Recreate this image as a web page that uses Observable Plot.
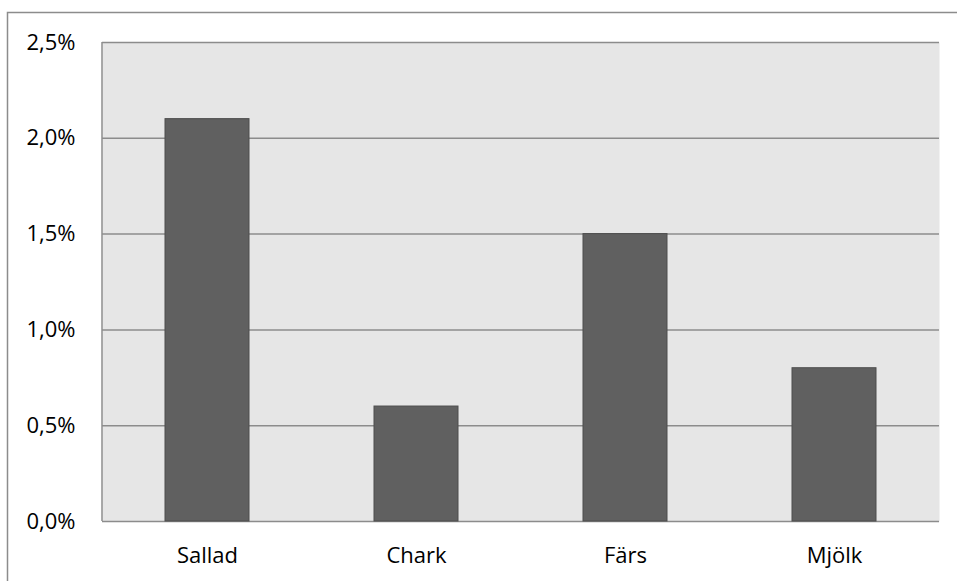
<!DOCTYPE html>
<html>
<head>
<meta charset="utf-8">
<script src="https://cdn.jsdelivr.net/npm/d3@7"></script>
<script src="https://cdn.jsdelivr.net/npm/@observablehq/plot@0.6"></script>
<style>
  html, body { margin: 0; padding: 0; background: #fff; }
  #chart svg { display: block; }
</style>
</head>
<body>
<div id="chart"></div>
<script>
// Share per product group, in percent
const categories = ["Sallad", "Chark", "Färs", "Mjölk"];
const values = [2.1, 0.6, 1.5, 0.8];
const yTicks = [0, 0.5, 1.0, 1.5, 2.0, 2.5];

const data = categories.map((category, i) => ({category, value: values[i]}));

const pct = d => d.toFixed(1).replace(".", ",") + "%";

// Left edge of the plotting area
const leftEdge = (index, scales, values, dims) => {
  const g = d3.create("svg:g");
  g.append("line")
    .attr("x1", dims.marginLeft).attr("x2", dims.marginLeft)
    .attr("y1", dims.marginTop).attr("y2", dims.height - dims.marginBottom)
    .attr("stroke", "#8c8c8c").attr("stroke-width", 1.5);
  return g.node();
};

// Outer chart border (top and left edges)
const outerBorder = (index, scales, values, dims) => {
  const g = d3.create("svg:g");
  g.append("path")
    .attr("d", `M7.5,${dims.height}V12.5H${dims.width}`)
    .attr("fill", "none")
    .attr("stroke", "#8c8c8c").attr("stroke-width", 1.5);
  return g.node();
};

const chart = Plot.plot({
  width: 957,
  height: 581,
  marginLeft: 102,
  marginRight: 18,
  marginTop: 42,
  marginBottom: 60,
  style: {fontFamily: "'Open Sans', sans-serif", fontSize: "22px", color: "#000", background: "#fff"},
  x: {domain: categories, paddingInner: 0.6, paddingOuter: 0.3, label: null, tickSize: 0, tickPadding: 26},
  y: {domain: [0, 2.5], ticks: yTicks, tickFormat: pct, label: null, tickSize: 0, tickPadding: 27},
  marks: [
    outerBorder,
    Plot.frame({fill: "#e6e6e6", stroke: null}),
    Plot.ruleY(yTicks, {stroke: "#8c8c8c", strokeWidth: 1.5, strokeOpacity: 1}),
    leftEdge,
    Plot.barY(data, {x: "category", y: "value", fill: "#606060", stroke: "#4d4d4d", strokeWidth: 1})
  ]
});

document.getElementById("chart").appendChild(chart);
</script>
</body>
</html>
